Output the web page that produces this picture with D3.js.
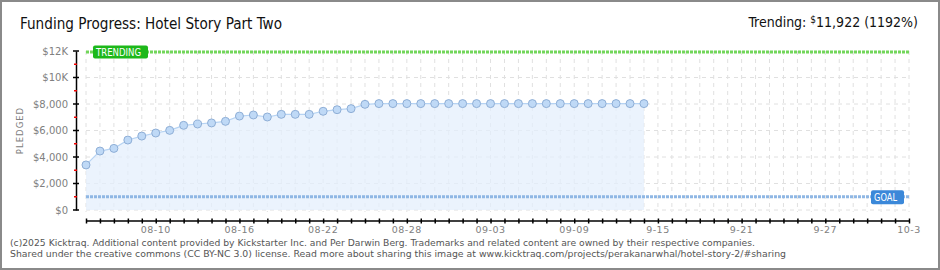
<!DOCTYPE html>
<html>
<head>
<meta charset="utf-8">
<script src="https://cdn.jsdelivr.net/npm/d3@7"></script>
<style>
  html, body { margin: 0; padding: 0; background: #fff; }
  svg { display: block; }
</style>
</head>
<body>
<svg id="chart" width="940" height="270"></svg>
<script>
// Kicktraq-style funding progress chart

const startDate = '2025-08-05';
const endDate = '2025-10-03';

// daily pledged totals, one per day from Aug 5
const pledged = [
    3400, 4450, 4650, 5280, 5580, 5810, 6010, 6390, 6490, 6570,
    6690, 7090, 7170, 7020, 7220, 7220, 7220, 7450, 7570, 7650,
    7975, 8030, 8030, 8030, 8030, 8030, 8030, 8030, 8030, 8030,
    8030, 8030, 8030, 8030, 8030, 8030, 8030, 8030, 8030, 8030,
    8030
];

const yTicks = [0, 2000, 4000, 6000, 8000, 10000, 12000];
const yTickLabels = ['$0', '$2,000', '$4,000', '$6,000', '$8,000', '$10K', '$12K'];
const yMinorTicks = [1000, 3000, 5000, 7000, 9000, 11000];

const xLabelDates = ['2025-08-10', '2025-08-16', '2025-08-22', '2025-08-28', '2025-09-03',
    '2025-09-09', '2025-09-15', '2025-09-21', '2025-09-27', '2025-10-03'];
const xLabels = ['08-10', '08-16', '08-22', '08-28', '09-03', '09-09', '9-15', '9-21', '9-27', '10-3'];

const goal = 1000;
const trending = 11922;
const trendingPct = 1192;

const parse = d3.timeParse('%Y-%m-%d');
const t0 = parse(startDate);
const t1 = parse(endDate);
const points = pledged.map((v, i) => ({ date: d3.timeDay.offset(t0, i), value: v }));

const svg = d3.select('#chart');
const W = 940, H = 270;

// frame
svg.append('rect')
    .attr('x', 1).attr('y', 1)
    .attr('width', W - 2).attr('height', H - 2)
    .attr('fill', '#fff')
    .attr('stroke', '#8a8a8a')
    .attr('stroke-width', 2);

const x = d3.scaleTime().domain([t0, t1]).range([86, 909]);
const y = d3.scaleLinear().domain([0, 12000]).range([210, 51]);

const plotRight = 910;
const fontPx = "'DejaVu Sans', Verdana, sans-serif";
const fontTitle = "'DejaVu Sans Condensed', 'Liberation Sans Narrow', sans-serif";

// grid
const days = d3.timeDay.range(t0, d3.timeDay.offset(t1, 1));
svg.append('g')
    .selectAll('line')
    .data(days)
    .enter()
    .append('line')
    .attr('x1', d => x(d)).attr('x2', d => x(d))
    .attr('y1', y(12000)).attr('y2', y(0) + 2)
    .attr('stroke', '#e0e0e0')
    .attr('stroke-width', 1)
    .attr('stroke-dasharray', '4,4');

svg.append('g')
    .selectAll('line')
    .data(yTicks.slice(0, -1))
    .enter()
    .append('line')
    .attr('x1', x(t0)).attr('x2', plotRight)
    .attr('y1', d => y(d)).attr('y2', d => y(d))
    .attr('stroke', '#e0e0e0')
    .attr('stroke-width', 1)
    .attr('stroke-dasharray', '4,4');

// area + line
const area = d3.area()
    .x(d => x(d.date))
    .y0(y(0))
    .y1(d => y(d.value));

svg.append('path')
    .datum(points)
    .attr('d', area)
    .attr('fill', '#e4effc')
    .attr('fill-opacity', 0.75);

const line = d3.line()
    .x(d => x(d.date))
    .y(d => y(d.value));

svg.append('path')
    .datum(points)
    .attr('d', line)
    .attr('fill', 'none')
    .attr('stroke', '#b6d3f3')
    .attr('stroke-width', 1.2);

// goal line
svg.append('line')
    .attr('x1', x(t0)).attr('x2', plotRight)
    .attr('y1', y(goal)).attr('y2', y(goal))
    .attr('stroke', '#8fb7e4')
    .attr('stroke-width', 3)
    .attr('stroke-dasharray', '3,1');

// trending line
svg.append('line')
    .attr('x1', x(t0)).attr('x2', plotRight)
    .attr('y1', y(trending)).attr('y2', y(trending))
    .attr('stroke', '#72d65a')
    .attr('stroke-width', 3)
    .attr('stroke-dasharray', '3,1');

// points
svg.append('g')
    .selectAll('circle')
    .data(points)
    .enter()
    .append('circle')
    .attr('cx', d => x(d.date))
    .attr('cy', d => y(d.value))
    .attr('r', 4)
    .attr('fill', '#bfd9f6')
    .attr('stroke', '#8eaed6')
    .attr('stroke-width', 1);

// y axis
const yAxis = d3.axisLeft(y)
    .tickValues(yTicks)
    .tickSize(0)
    .tickPadding(8)
    .tickFormat((d, i) => yTickLabels[i]);

const gy = svg.append('g')
    .attr('transform', 'translate(76,0)')
    .call(yAxis);
gy.select('.domain').attr('stroke', '#000').attr('stroke-width', 1.5);
gy.selectAll('.tick text')
    .attr('fill', '#808080')
    .attr('font-family', fontPx)
    .attr('font-size', '10px');

gy.selectAll('.major')
    .data(yTicks)
    .enter()
    .append('line')
    .attr('x1', -3).attr('x2', 3)
    .attr('y1', d => y(d)).attr('y2', d => y(d))
    .attr('stroke', '#000')
    .attr('stroke-width', 1.5);

gy.selectAll('.minor')
    .data(yMinorTicks)
    .enter()
    .append('line')
    .attr('x1', -2).attr('x2', 1)
    .attr('y1', d => y(d)).attr('y2', d => y(d))
    .attr('stroke', '#e00')
    .attr('stroke-width', 1.5);

svg.append('text')
    .attr('transform', `translate(23, ${y(6000)}) rotate(-90)`)
    .attr('text-anchor', 'middle')
    .attr('fill', '#808080')
    .attr('font-family', fontPx)
    .attr('font-size', '8.5px')
    .attr('letter-spacing', '1px')
    .text('PLEDGED');

// x axis
const xAxis = d3.axisBottom(x)
    .tickValues(days)
    .tickSize(0)
    .tickFormat('');

const gx = svg.append('g')
    .attr('transform', 'translate(0,220.5)')
    .call(xAxis);
gx.select('.domain').attr('stroke', '#000').attr('stroke-width', 1.5);
gx.selectAll('.tick')
    .append('line')
    .attr('y1', -2).attr('y2', 3)
    .attr('stroke', '#000')
    .attr('stroke-width', 1.5);

gx.selectAll('.xlabel')
    .data(xLabelDates)
    .enter()
    .append('text')
    .attr('x', d => x(parse(d)))
    .attr('y', 12)
    .attr('text-anchor', 'middle')
    .attr('fill', '#808080')
    .attr('font-family', fontPx)
    .attr('font-size', '9.5px')
    .attr('letter-spacing', '0.5px')
    .text((d, i) => xLabels[i]);

// badges
function badge(label, bx, by, w, h, color) {
    const g = svg.append('g');
    g.append('rect')
        .attr('x', bx).attr('y', by)
        .attr('width', w).attr('height', h)
        .attr('rx', 2)
        .attr('fill', color);
    g.append('text')
        .attr('x', bx + 3)
        .attr('y', by + h / 2 + 4)
        .attr('fill', '#fff')
        .attr('font-family', fontPx)
        .attr('font-size', '10.5px')
        .attr('textLength', w - 10)
        .attr('lengthAdjust', 'spacingAndGlyphs')
        .text(label);
}
badge('TRENDING', 93, y(trending) - 6.5, 55, 13, '#1db81a');
badge('GOAL', 871, y(goal) - 6.5, 33, 14, '#3b88d9');

// title
svg.append('text')
    .attr('x', 20)
    .attr('y', 29)
    .attr('fill', '#111')
    .attr('font-family', fontTitle)
    .attr('font-size', '15.5px')
    .attr('textLength', 262)
    .attr('lengthAdjust', 'spacingAndGlyphs')
    .text('Funding Progress: Hotel Story Part Two');

const tr = svg.append('text')
    .attr('x', 918)
    .attr('y', 27)
    .attr('text-anchor', 'end')
    .attr('fill', '#111')
    .attr('font-family', fontTitle)
    .attr('font-size', '14px');
tr.append('tspan').text('Trending:  ');
tr.append('tspan').attr('font-size', '10px').attr('dy', -4).text('$');
tr.append('tspan').attr('dy', 4).text(`${d3.format(',')(trending)} (${trendingPct}%)`);

// footer
const footer = [
    '(c)2025 Kicktraq. Additional content provided by Kickstarter Inc. and Per Darwin Berg. Trademarks and related content are owned by their respective companies.',
    'Shared under the creative commons (CC BY-NC 3.0) license. Read more about sharing this image at www.kicktraq.com/projects/perakanarwhal/hotel-story-2/#sharing'
];
const footerLen = [745, 776];
svg.selectAll('.footer')
    .data(footer)
    .enter()
    .append('text')
    .attr('x', 10)
    .attr('y', (d, i) => 246 + i * 11)
    .attr('fill', '#555')
    .attr('font-family', "Tahoma, 'DejaVu Sans', Verdana, sans-serif")
    .attr('font-size', '9.5px')
    .attr('textLength', (d, i) => footerLen[i])
    .attr('lengthAdjust', 'spacingAndGlyphs')
    .text(d => d);
</script>
</body>
</html>
